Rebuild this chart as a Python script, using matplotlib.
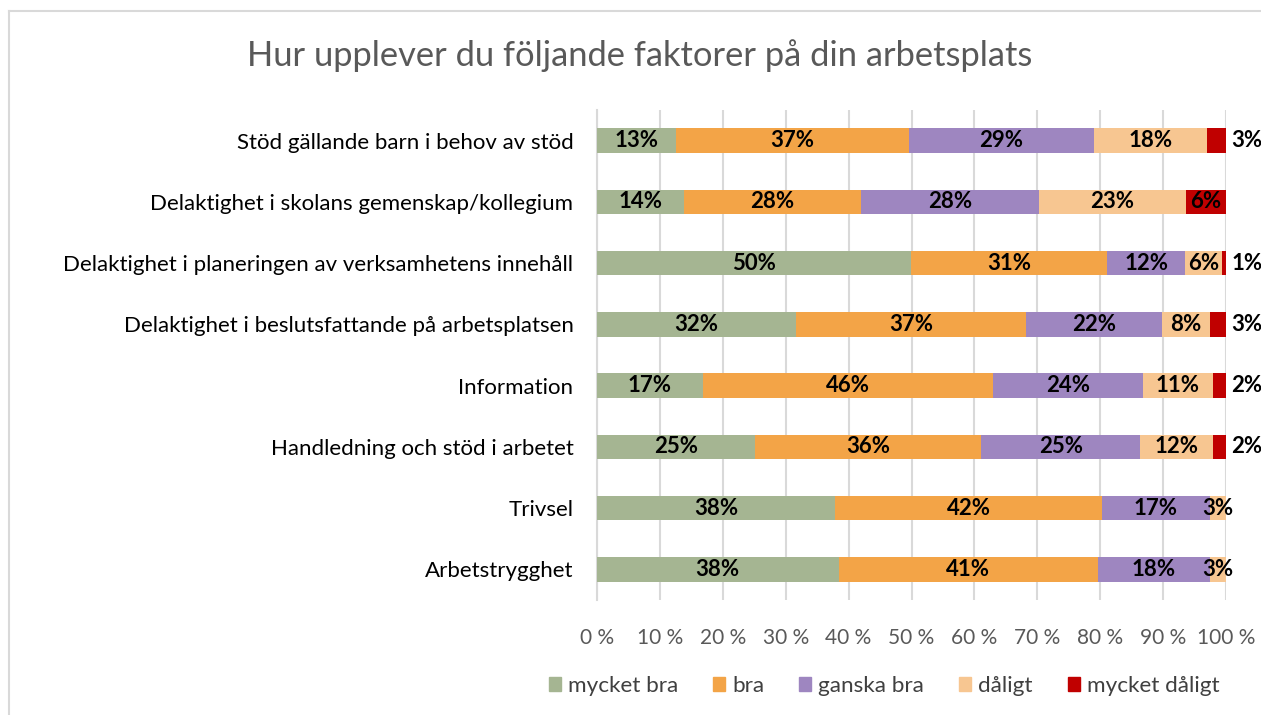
import matplotlib.pyplot as plt
from matplotlib.lines import Line2D
from matplotlib.patches import Patch

plt.rcParams['font.family'] = ['Lato', 'DejaVu Sans']

categories = [
    'Stöd gällande barn i behov av stöd',
    'Delaktighet i skolans gemenskap/kollegium',
    'Delaktighet i planeringen av verksamhetens innehåll',
    'Delaktighet i beslutsfattande på arbetsplatsen',
    'Information',
    'Handledning och stöd i arbetet',
    'Trivsel',
    'Arbetstrygghet',
]

# share of answers (%) per category, top to bottom
mycket_bra = [12.6, 13.8, 49.9, 31.6, 16.8, 25.1, 37.9, 38.4]
bra = [37.0, 28.1, 31.2, 36.6, 46.2, 36.0, 42.4, 41.3]
ganska_bra = [29.4, 28.4, 12.4, 21.6, 23.8, 25.3, 17.1, 17.7]
daligt = [17.9, 23.3, 5.9, 7.6, 11.1, 11.6, 2.6, 2.6]
mycket_daligt = [3.1, 6.4, 0.6, 2.6, 2.1, 2.0, 0.0, 0.0]

series = [
    ('mycket bra', mycket_bra, '#A5B592'),
    ('bra', bra, '#F3A447'),
    ('ganska bra', ganska_bra, '#9E86C0'),
    ('dåligt', daligt, '#F7C691'),
    ('mycket dåligt', mycket_daligt, '#C00000'),
]

W, H = 1261, 715
fig = plt.figure(figsize=(W / 100, H / 100), dpi=100)
ax = fig.add_axes([597 / W, 1 - 600 / H, (1226 - 597) / W, (600 - 110) / H])

y = list(range(len(categories)))
left = [0.0] * len(categories)
for name, vals, color in series:
    bars = ax.barh(y, vals, left=left, height=0.4, color=color, label=name, zorder=3)
    for i, (b, v) in enumerate(zip(bars, vals)):
        if v <= 0:
            continue
        txt = f'{v:.0f}%'
        cy = b.get_y() + b.get_height() / 2
        if name == 'mycket dåligt' and v < 5:
            ax.annotate(txt, (100, cy), xytext=(4, 0), textcoords='offset points',
                        ha='left', va='center', fontsize=16, fontweight='bold',
                        color='black', annotation_clip=False)
        else:
            ax.text(left[i] + v / 2, cy, txt, ha='center', va='center',
                    fontsize=16, fontweight='bold', color='black', zorder=4)
    left = [l + v for l, v in zip(left, vals)]

ax.set_xlim(0, 100)
ax.set_ylim(len(categories) - 0.5, -0.5)
ax.set_xticks(range(0, 101, 10))
ax.set_xticklabels([f'{t} %' for t in range(0, 101, 10)], fontsize=15, color='#595959')
ax.set_yticks(y)
ax.set_yticklabels(categories, fontsize=16, color='black')
ax.tick_params(axis='both', length=0)
ax.tick_params(axis='x', pad=20)
ax.tick_params(axis='y', pad=17)
ax.grid(axis='x', color='#D9D9D9', linewidth=1.5, zorder=0)
for side in ['top', 'right', 'bottom']:
    ax.spines[side].set_visible(False)
ax.spines['left'].set_color('#D9D9D9')
ax.spines['left'].set_linewidth(1.5)

fig.text(640 / W, 1 - 56 / H, 'Hur upplever du följande faktorer på din arbetsplats',
         ha='center', va='center', fontsize=24.8, color='#595959')

handles = [Patch(color=c, label=n) for n, _, c in series]
fig.legend(handles=handles, loc='center', bbox_to_anchor=(884 / W, 1 - 686 / H),
           ncol=5, frameon=False, fontsize=16.2, handlelength=0.55, handleheight=0.55,
           handletextpad=0.3, columnspacing=1.55, labelcolor='#404040')

# chart area border
fig.add_artist(Line2D([9 / W, 9 / W], [0, 1 - 11 / H], color='#D9D9D9', linewidth=1.5))
fig.add_artist(Line2D([9 / W, 1], [1 - 11 / H, 1 - 11 / H], color='#D9D9D9', linewidth=1.5))

fig.savefig('out.png', dpi=100)
